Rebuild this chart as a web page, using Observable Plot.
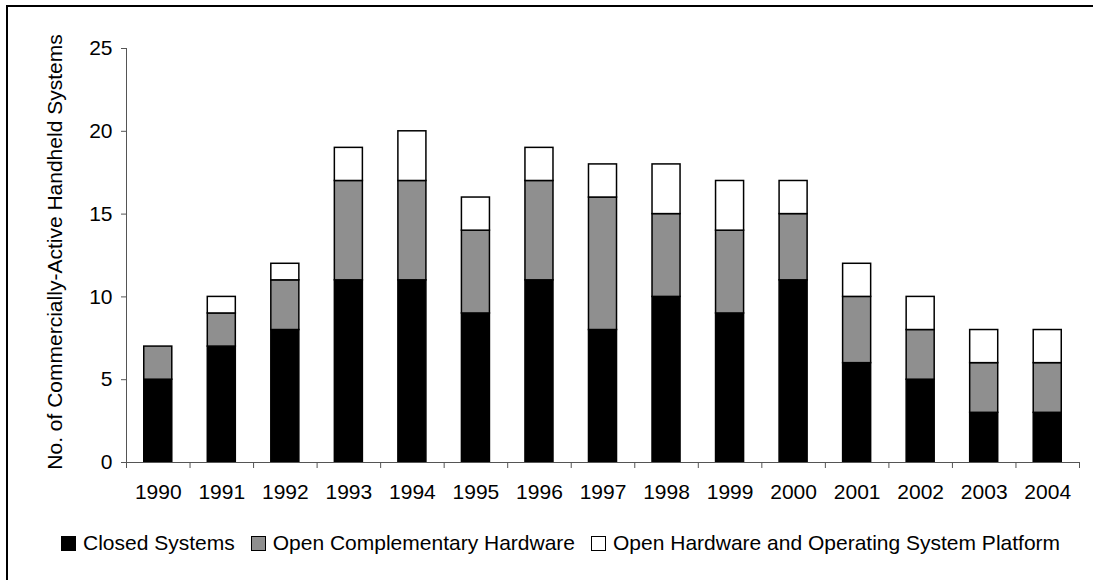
<!DOCTYPE html>
<html>
<head>
<meta charset="utf-8">
<script src="https://cdn.jsdelivr.net/npm/d3@7"></script>
<script src="https://cdn.jsdelivr.net/npm/@observablehq/plot@0.6"></script>
<style>
  html, body { margin: 0; padding: 0; background: #fff; overflow: hidden; }
  #wrap { position: relative; width: 1093px; height: 580px; font-family: "Liberation Sans", Arial, sans-serif; color: #000; }
  #frame { position: absolute; left: 6px; top: 5px; width: 1100px; height: 600px; border-left: 2px solid #000; border-top: 2px solid #000; }
  #chart { position: absolute; left: 0; top: 0; }
  #ytitle { position: absolute; left: 55px; top: 252px; transform: translate(-50%, -50%) rotate(-90deg); white-space: nowrap; font-size: 21px; }
  #legend { position: absolute; left: 61px; top: 531px; display: flex; align-items: center; font-size: 21px; white-space: nowrap; }
  #legend .item { display: flex; align-items: center; margin-right: 16px; }
  #legend .sw { width: 13px; height: 13px; border: 1.5px solid #000; margin-right: 7px; box-sizing: content-box; }
</style>
</head>
<body>
<div id="wrap">
  <div id="frame"></div>
  <div id="chart"></div>
  <div id="ytitle"></div>
  <div id="legend"></div>
</div>
<script>
const years = ["1990","1991","1992","1993","1994","1995","1996","1997","1998","1999","2000","2001","2002","2003","2004"];
const closedSystems = [5, 7, 8, 11, 11, 9, 11, 8, 10, 9, 11, 6, 5, 3, 3];
const openComplementary = [2, 2, 3, 6, 6, 5, 6, 8, 5, 5, 4, 4, 3, 3, 3];
const openPlatform = [0, 1, 1, 2, 3, 2, 2, 2, 3, 3, 2, 2, 2, 2, 2];
const seriesNames = ["Closed Systems", "Open Complementary Hardware", "Open Hardware and Operating System Platform"];
const seriesColors = ["#000000", "#8f8f8f", "#ffffff"];
const yTicks = [0, 5, 10, 15, 20, 25];
const yTitle = "No. of Commercially-Active Handheld Systems";

const seriesValues = [closedSystems, openComplementary, openPlatform];
const rows = [];
years.forEach((yr, i) => {
  let acc = 0;
  seriesValues.forEach((vals, s) => {
    const v = vals[i];
    if (v > 0) rows.push({i, i1: i + 1, year: yr, series: seriesNames[s], y1: acc, y2: acc + v});
    acc += v;
  });
});

const chart = Plot.plot({
  width: 1093,
  height: 510,
  marginTop: 48,
  marginBottom: 48,
  marginLeft: 126,
  marginRight: 14,
  style: {fontFamily: "'Liberation Sans', Arial, sans-serif", fontSize: "21px", color: "#000", background: "transparent", overflow: "visible"},
  x: {type: "linear", domain: [0, years.length], axis: null},
  y: {domain: [0, 25], axis: null},
  color: {domain: seriesNames, range: seriesColors},
  marks: [
    Plot.rect(rows, {x1: "i", x2: "i1", y1: "y1", y2: "y2", fill: "series", stroke: "#000", strokeWidth: 1.5, insetLeft: 17.75, insetRight: 17.75}),
    Plot.axisY({ticks: yTicks, tickSize: 5, tickPadding: 9, label: null, stroke: "#555", fill: "#000"}),
    Plot.ruleX([0], {stroke: "#555"}),
    Plot.ruleY([0], {stroke: "#555"}),
    Plot.axisX({ticks: d3.range(years.length + 1), tickFormat: () => "", tickSize: 6, label: null, stroke: "#555"}),
    Plot.axisX({ticks: d3.range(years.length).map(i => i + 0.5), tickFormat: d => years[Math.floor(d)], tickSize: 0, tickPadding: 22, label: null, fill: "#000"})
  ]
});
document.getElementById("chart").appendChild(chart);
document.getElementById("ytitle").textContent = yTitle;

const legend = document.getElementById("legend");
seriesNames.forEach((name, s) => {
  const item = document.createElement("div");
  item.className = "item";
  const sw = document.createElement("span");
  sw.className = "sw";
  sw.style.background = seriesColors[s];
  const label = document.createElement("span");
  label.textContent = name;
  item.appendChild(sw);
  item.appendChild(label);
  legend.appendChild(item);
});
</script>
</body>
</html>
